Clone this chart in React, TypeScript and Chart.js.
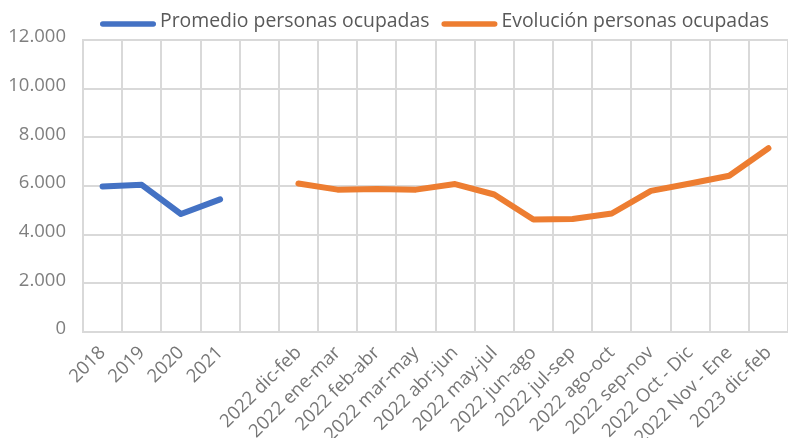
import React, { useEffect, useRef } from "react";
import { Chart, registerables } from "chart.js";

Chart.register(...registerables);

const categories = [
  "2018", "2019", "2020", "2021", "",
  "2022 dic-feb", "2022 ene-mar", "2022 feb-abr", "2022 mar-may", "2022 abr-jun",
  "2022 may-jul", "2022 jun-ago", "2022 jul-sep", "2022 ago-oct", "2022 sep-nov",
  "2022 Oct - Dic", "2022 Nov - Ene", "2023 dic-feb",
];

const promedio = [5980, 6050, 4850, 5450, null, null, null, null, null, null, null, null, null, null, null, null, null, null];
const evolucion = [null, null, null, null, null, 6100, 5850, 5880, 5850, 6080, 5650, 4620, 4640, 4870, 5800, 6100, 6420, 7550];

const yTicks = [0, 2000, 4000, 6000, 8000, 10000, 12000];

const fmt = (v: number) => String(v).replace(/\B(?=(\d{3})+(?!\d))/g, ".");

const FONT = "Open Sans";

const legendPlugin = {
  id: "customLegend",
  afterDraw(chart: any) {
    const ctx = chart.ctx;
    const area = chart.chartArea;
    const lineW = 56;
    const gapText = 4;
    const gapItem = 12;
    ctx.save();
    ctx.font = `19.4px "${FONT}"`;
    const items = chart.data.datasets.map((ds: any) => ({
      label: ds.label,
      color: ds.borderColor,
      w: lineW + gapText + ctx.measureText(ds.label).width,
    }));
    const total = items.reduce((s: number, it: any) => s + it.w, 0) + gapItem * (items.length - 1);
    let x = (area.left + area.right) / 2 - total / 2 - 1;
    const yLine = 24;
    const yText = 27;
    for (const it of items) {
      ctx.strokeStyle = it.color;
      ctx.lineWidth = 5.5;
      ctx.lineCap = "round";
      ctx.beginPath();
      ctx.moveTo(x + 2.75, yLine);
      ctx.lineTo(x + lineW - 2.75, yLine);
      ctx.stroke();
      ctx.fillStyle = "#595959";
      ctx.textBaseline = "alphabetic";
      ctx.textAlign = "left";
      ctx.fillText(it.label, x + lineW + gapText, yText);
      x += it.w + gapItem;
    }
    ctx.restore();
  },
};

export default function App() {
  const ref = useRef<HTMLCanvasElement | null>(null);
  useEffect(() => {
    document.body.style.margin = "0";
    if (!ref.current) return;
    const chart = new Chart(ref.current, {
      type: "line",
      data: {
        labels: categories,
        datasets: [
          {
            label: "Promedio personas ocupadas",
            data: promedio,
            borderColor: "#4472C4",
            backgroundColor: "#4472C4",
            borderWidth: 6,
            pointRadius: 0,
            borderCapStyle: "round",
            borderJoinStyle: "round",
            spanGaps: false,
          },
          {
            label: "Evolución personas ocupadas",
            data: evolucion,
            borderColor: "#ED7D31",
            backgroundColor: "#ED7D31",
            borderWidth: 6,
            pointRadius: 0,
            borderCapStyle: "round",
            borderJoinStyle: "round",
            spanGaps: false,
          },
        ],
      },
      options: {
        animation: false,
        responsive: false,
        maintainAspectRatio: false,
        layout: { padding: { left: 0, right: 0, top: 40, bottom: 0 } },
        plugins: {
          tooltip: { enabled: false },
          legend: { display: false },
        },
        scales: {
          x: {
            offset: true,
            grid: { offset: true, color: "#d9d9d9", lineWidth: 2, drawTicks: false },
            border: { color: "#d9d9d9", width: 2 },
            afterFit: (scale: any) => {
              scale.paddingLeft = 0;
              scale.paddingRight = 0;
              scale.height = 106;
            },
            ticks: {
              autoSkip: false,
              maxRotation: 45,
              minRotation: 45,
              padding: 10,
              color: "#767676",
              font: { family: FONT, size: 18.5 },
            },
          },
          y: {
            min: 0,
            max: 12000,
            afterBuildTicks: (axis: any) => {
              axis.ticks = yTicks.map((v) => ({ value: v }));
            },
            afterFit: (scale: any) => {
              scale.width = 83;
              scale.paddingTop = 0;
              scale.paddingBottom = 0;
            },
            grid: { color: "#d9d9d9", lineWidth: 2, drawTicks: false },
            border: { color: "#d9d9d9", width: 2 },
            ticks: {
              padding: 17,
              labelOffset: -3,
              color: "#7f7f7f",
              font: { family: FONT, size: 18.5 },
              callback: (v: any) => fmt(Number(v)),
            },
          },
        },
      },
      plugins: [legendPlugin],
    });
    return () => chart.destroy();
  }, []);
  return (
    <div style={{ width: 788, height: 438 }}>
      <canvas ref={ref} width={788} height={438} style={{ width: 788, height: 438 }} />
    </div>
  );
}
